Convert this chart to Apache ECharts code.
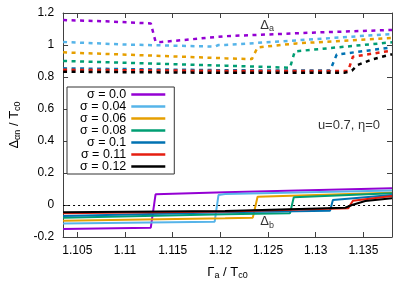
<!DOCTYPE html>
<html>
<head>
<meta charset="utf-8">
<script src="https://cdn.jsdelivr.net/npm/echarts@6/dist/echarts.min.js"></script>
<style>
html,body{margin:0;padding:0;background:#fff;}
#chart{width:415px;height:291px;}
</style>
</head>
<body>
<div id="chart"></div>
<script>
// ---- data ----
const sigmaLabels = ['σ = 0.0','σ = 0.04','σ = 0.06','σ = 0.08','σ = 0.1','σ = 0.11','σ = 0.12'];
const seriesColors = ['#9400d3','#56b4e9','#e69f00','#009e73','#0072b2','#e51e10','#000000'];
const xTickValues = [1.105,1.11,1.115,1.12,1.125,1.13,1.135];

// Delta_a (dashed)
const deltaA_s000 = [[1.1035,1.156],[1.108,1.148],[1.1127,1.135],[1.1132,1.02],[1.1137,1.018],[1.1205,1.055],[1.13,1.078],[1.138,1.094]];
const deltaA_s004 = [[1.1035,1.019],[1.11,1.003],[1.1194,0.99],[1.1198,1.0],[1.1205,1.0],[1.1275,1.027],[1.138,1.069]];
const deltaA_s006 = [[1.1035,0.954],[1.1205,0.917],[1.1233,0.912],[1.1239,0.985],[1.128,1.01],[1.138,1.044]];
const deltaA_s008 = [[1.1035,0.9],[1.1205,0.871],[1.1273,0.858],[1.1278,0.96],[1.138,1.017]];
const deltaA_s010 = [[1.1035,0.854],[1.1205,0.842],[1.1315,0.84],[1.1322,0.94],[1.138,0.985]];
const deltaA_s011 = [[1.1035,0.845],[1.1205,0.838],[1.1334,0.838],[1.1339,0.927],[1.138,0.965]];
const deltaA_s012 = [[1.1035,0.833],[1.1205,0.826],[1.133,0.826],[1.1338,0.84],[1.1344,0.875],[1.1359,0.91],[1.138,0.942]];

// Delta_b (solid)
const deltaB_s000 = [[1.1035,-0.15],[1.1127,-0.142],[1.1132,0.067],[1.1205,0.08],[1.138,0.104]];
const deltaB_s004 = [[1.1035,-0.115],[1.1194,-0.104],[1.1198,0.062],[1.1205,0.069],[1.138,0.09]];
const deltaB_s006 = [[1.1035,-0.098],[1.1205,-0.083],[1.1234,-0.079],[1.1239,0.052],[1.138,0.077]];
const deltaB_s008 = [[1.1035,-0.079],[1.1205,-0.058],[1.1273,-0.052],[1.1277,0.048],[1.138,0.073]];
const deltaB_s010 = [[1.1035,-0.069],[1.1205,-0.045],[1.1315,-0.036],[1.1318,0.031],[1.138,0.063]];
const deltaB_s011 = [[1.1035,-0.052],[1.1205,-0.04],[1.1334,-0.021],[1.1339,0.027],[1.138,0.056]];
const deltaB_s012 = [[1.1035,-0.046],[1.1205,-0.038],[1.1331,-0.017],[1.1338,0.0],[1.1352,0.025],[1.138,0.042]];

// annotations (data coordinates)
const annotDeltaA = [1.1249, 1.125];
const annotDeltaB = [1.1249, -0.105];
const annotParams = [1.1368, 0.5];

const deltaA = [deltaA_s000,deltaA_s004,deltaA_s006,deltaA_s008,deltaA_s010,deltaA_s011,deltaA_s012];
const deltaB = [deltaB_s000,deltaB_s004,deltaB_s006,deltaB_s008,deltaB_s010,deltaB_s011,deltaB_s012];

// ---- chart ----
const FONT = 'Liberation Sans, Arial, sans-serif';
const chart = echarts.init(document.getElementById('chart'), null, {renderer:'canvas'});

const series = [];
deltaA.forEach((d,i)=>{
  series.push({
    name: sigmaLabels[i] + ' a', type:'line', data:d, showSymbol:false, symbol:'none',
    lineStyle:{color:seriesColors[i], width:2.5, type:[4,4.5]}, itemStyle:{color:seriesColors[i]},
    z: 2 + i*0.01, silent:true
  });
});
deltaB.forEach((d,i)=>{
  const s = {
    name: sigmaLabels[i], type:'line', data:d, showSymbol:false, symbol:'none',
    lineStyle:{color:seriesColors[i], width:2}, itemStyle:{color:seriesColors[i]},
    z: 3 + i*0.01, silent:true
  };
  if(i===0){
    s.markLine = {silent:true, symbol:'none', label:{show:false},
      lineStyle:{color:'#000', width:1, type:[2,3]}, data:[{yAxis:0}], z:1};
  }
  series.push(s);
});
const richSub = {
  b:{fontSize:13, fontFamily:FONT, color:'#000'},
  s:{fontSize:9, fontFamily:FONT, color:'#000', padding:[7,0,0,0]}
};
series.push({
  type:'scatter', symbolSize:1, itemStyle:{color:'transparent'}, silent:true,
  data:[annotDeltaA, annotDeltaB],
  label:{show:true, position:'inside', formatter:(p)=> p.dataIndex===0 ? '{b|Δ}{s|a}' : '{b|Δ}{s|b}', rich:richSub}
});
series.push({
  type:'scatter', symbolSize:1, itemStyle:{color:'transparent'}, silent:true,
  data:[annotParams],
  label:{show:true, position:'left', distance:0, formatter:'u=0.7, η=0', fontSize:13, fontFamily:FONT, color:'#000'}
});

const axisLineStyle = {color:'#404040', width:1};
chart.setOption({
  animation:false,
  backgroundColor:'#fff',
  grid:{left:62, right:23, top:13, bottom:54},
  legend:{
    data: sigmaLabels, orient:'vertical', left:67, top:87, align:'right',
    icon:'rect', itemWidth:34, itemHeight:2.5, itemGap:-1,
    padding:[1,9,1,13], borderColor:'#333', borderWidth:1, backgroundColor:'#fff',
    textStyle:{fontSize:12.5, fontFamily:FONT, color:'#000'}, selectedMode:false
  },
  xAxis:[{
    type:'value', min:1.1035, max:1.138, position:'bottom',
    axisLine:{show:true, onZero:false, lineStyle:axisLineStyle},
    axisTick:{show:true, inside:true, length:5, customValues:xTickValues, lineStyle:axisLineStyle},
    axisLabel:{show:true, customValues:xTickValues, formatter:(v)=>String(parseFloat(v.toFixed(4))), fontSize:12, fontFamily:FONT, color:'#000', margin:8},
    splitLine:{show:false},
    name:'{b|Γ}{s|a}{b| / T}{s|c0}', nameLocation:'middle', nameGap:27,
    nameTextStyle:{rich:richSub}
  },{
    type:'value', min:1.1035, max:1.138, position:'top',
    axisLine:{show:true, onZero:false, lineStyle:axisLineStyle},
    axisTick:{show:true, inside:true, length:5, customValues:xTickValues, lineStyle:axisLineStyle},
    axisLabel:{show:false}, splitLine:{show:false}
  }],
  yAxis:[{
    type:'value', min:-0.2, max:1.2, interval:0.2, position:'left',
    axisLine:{show:true, onZero:false, lineStyle:axisLineStyle},
    axisTick:{show:true, inside:true, length:5, lineStyle:axisLineStyle},
    axisLabel:{formatter:(v)=>String(parseFloat(v.toFixed(2))), fontSize:12, fontFamily:FONT, color:'#000', margin:9},
    splitLine:{show:false},
    name:'{b|Δ}{s|αn}{b| / T}{s|c0}', nameLocation:'middle', nameGap:31, nameRotate:90,
    nameTextStyle:{rich:richSub}
  },{
    type:'value', min:-0.2, max:1.2, interval:0.2, position:'right',
    axisLine:{show:true, onZero:false, lineStyle:axisLineStyle},
    axisTick:{show:true, inside:true, length:5, lineStyle:axisLineStyle},
    axisLabel:{show:false}, splitLine:{show:false}
  }],
  series: series
});
</script>
</body>
</html>
